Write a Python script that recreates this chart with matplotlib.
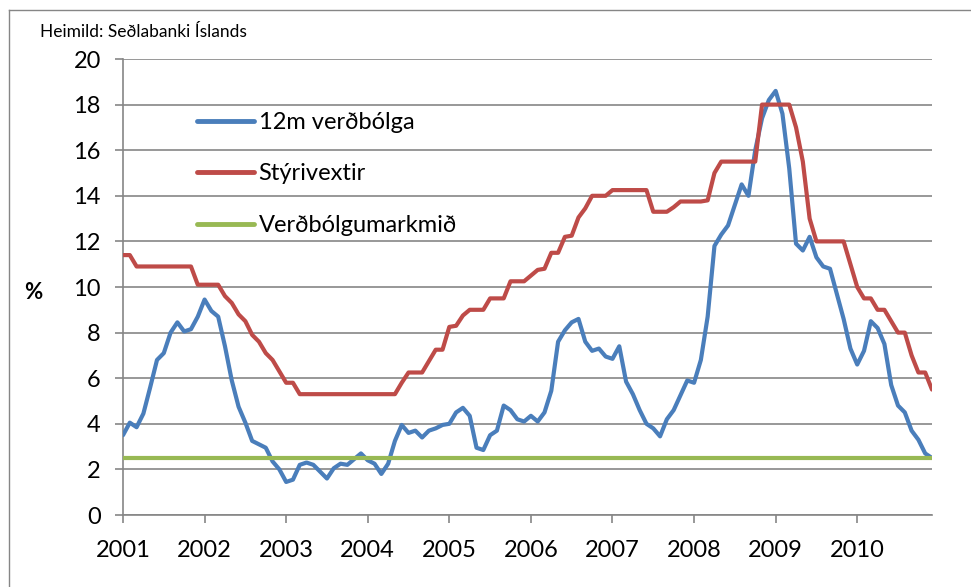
import matplotlib
matplotlib.use("Agg")
import matplotlib.pyplot as plt
from matplotlib.lines import Line2D

# monthly data, Jan 2001 - Dec 2010
years = [str(y) for y in range(2001, 2011)]

verdbolga = [
    3.5, 4.05, 3.85, 4.45, 5.6, 6.8, 7.1, 8.0, 8.45, 8.05, 8.15, 8.7,
    9.45, 8.95, 8.7, 7.4, 5.9, 4.75, 4.05, 3.25, 3.1, 2.95, 2.35, 2.0,
    1.45, 1.55, 2.2, 2.3, 2.2, 1.9, 1.6, 2.05, 2.25, 2.2, 2.45, 2.7,
    2.4, 2.25, 1.8, 2.25, 3.25, 3.95, 3.6, 3.7, 3.4, 3.7, 3.8, 3.95,
    4.0, 4.5, 4.7, 4.35, 2.95, 2.85, 3.5, 3.7, 4.8, 4.6, 4.2, 4.1,
    4.35, 4.1, 4.5, 5.45, 7.6, 8.1, 8.45, 8.6, 7.6, 7.2, 7.3, 6.95,
    6.85, 7.4, 5.85, 5.3, 4.6, 4.0, 3.8, 3.45, 4.2, 4.6, 5.25, 5.9,
    5.8, 6.8, 8.7, 11.8, 12.3, 12.7, 13.6, 14.5, 14.0, 16.0, 17.4, 18.2,
    18.6, 17.6, 15.2, 11.9, 11.6, 12.2, 11.3, 10.9, 10.8, 9.7, 8.6, 7.3,
    6.6, 7.2, 8.5, 8.2, 7.5, 5.7, 4.8, 4.5, 3.7, 3.3, 2.7, 2.5,
]

styrivextir = [
    11.4, 11.4, 10.9, 10.9, 10.9, 10.9, 10.9, 10.9, 10.9, 10.9, 10.9, 10.1,
    10.1, 10.1, 10.1, 9.6, 9.3, 8.8, 8.5, 7.9, 7.6, 7.1, 6.8, 6.3,
    5.8, 5.8, 5.3, 5.3, 5.3, 5.3, 5.3, 5.3, 5.3, 5.3, 5.3, 5.3,
    5.3, 5.3, 5.3, 5.3, 5.3, 5.8, 6.25, 6.25, 6.25, 6.75, 7.25, 7.25,
    8.25, 8.3, 8.75, 9.0, 9.0, 9.0, 9.5, 9.5, 9.5, 10.25, 10.25, 10.25,
    10.5, 10.75, 10.8, 11.5, 11.5, 12.2, 12.25, 13.05, 13.45, 14.0, 14.0, 14.0,
    14.25, 14.25, 14.25, 14.25, 14.25, 14.25, 13.3, 13.3, 13.3, 13.5, 13.75, 13.75,
    13.75, 13.75, 13.8, 15.0, 15.5, 15.5, 15.5, 15.5, 15.5, 15.5, 18.0, 18.0,
    18.0, 18.0, 18.0, 17.0, 15.5, 13.0, 12.0, 12.0, 12.0, 12.0, 12.0, 11.0,
    10.0, 9.5, 9.5, 9.0, 9.0, 8.5, 8.0, 8.0, 7.0, 6.25, 6.25, 5.5,
]

markmid = [2.5] * 120

months = list(range(len(verdbolga)))

plt.rcParams["font.family"] = ["Lato", "DejaVu Sans"]

fig = plt.figure(figsize=(9.71, 5.87), dpi=100)
ax = fig.add_axes([123 / 971, 1 - 515 / 587, (932 - 123) / 971, (515 - 59) / 587])

grid_c = "#868686"
ax.plot(months, verdbolga, color="#4A7EBB", lw=3, solid_capstyle="round",
        label="12m verðbólga", zorder=3)
ax.plot(months, styrivextir, color="#BE4B48", lw=3, solid_capstyle="round",
        label="Stýrivextir", zorder=3)
ax.plot(months, markmid, color="#98B954", lw=3, solid_capstyle="round",
        label="Verðbólgumarkmið", zorder=3)

ax.set_xlim(0, 119)
ax.set_ylim(0, 20)
ax.set_yticks(range(0, 21, 2))
ax.set_xticks(range(0, 120, 12))
ax.set_xticklabels(years)
ax.yaxis.grid(True, color=grid_c, lw=1.2)
ax.set_axisbelow(True)
for s in ["top", "right"]:
    ax.spines[s].set_visible(False)
for s in ["left", "bottom"]:
    ax.spines[s].set_color(grid_c)
    ax.spines[s].set_linewidth(1.2)
ax.tick_params(axis="both", colors=grid_c, length=6, width=1.2, labelsize=17,
               labelcolor="black")
ax.tick_params(axis="x", pad=12)
ax.tick_params(axis="y", pad=10)

ax.set_ylabel("%", rotation=0, fontsize=16, fontweight="bold", va="center")
ax.yaxis.set_label_coords(-0.111, 0.488)

handles = [Line2D([], [], color=c, lw=3.5, solid_capstyle="round")
           for c in ["#4A7EBB", "#BE4B48", "#98B954"]]
ax.legend(handles, ["12m verðbólga", "Stýrivextir", "Verðbólgumarkmið"],
          loc="upper left", bbox_to_anchor=(0.08, 0.905), frameon=False,
          fontsize=17, handlelength=2.4, handletextpad=0.2, labelspacing=1.3,
          borderaxespad=0)

fig.text(40 / 971, 1 - 32 / 587, "Heimild: Seðlabanki Íslands", fontsize=12.5,
         va="center", ha="left")

# frame lines of the original box
fig.add_artist(Line2D([9 / 971, 9 / 971], [0, 1 - 10 / 587], color=grid_c, lw=1))
fig.add_artist(Line2D([9 / 971, 1], [1 - 10 / 587, 1 - 10 / 587], color=grid_c, lw=1))

fig.savefig("out.png", dpi=100)
